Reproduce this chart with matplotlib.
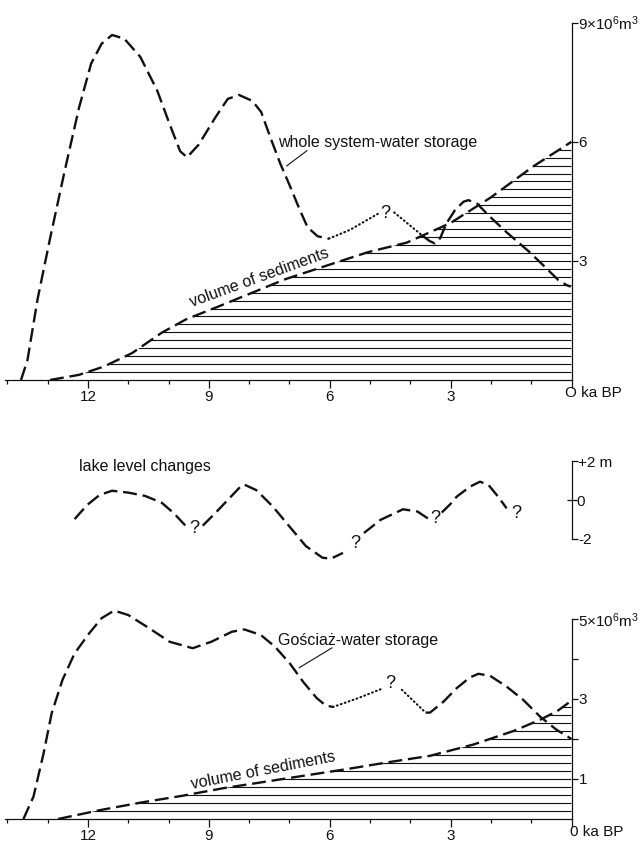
import numpy as np
import matplotlib
matplotlib.use('Agg')
import matplotlib.pyplot as plt
from matplotlib.ticker import FixedLocator, FixedFormatter

plt.rcParams['font.family'] = ['Liberation Sans', 'DejaVu Sans']
plt.rcParams['mathtext.fontset'] = 'custom'
plt.rcParams['mathtext.rm'] = 'Liberation Sans'
plt.rcParams['mathtext.it'] = 'Liberation Sans'
plt.rcParams['lines.scale_dashes'] = False

# ---------------- data (ka BP, values) ----------------
# top panel: whole system water storage (10^6 m3)
whole_age_a = [13.66, 13.5, 13.25, 12.94, 12.58, 12.22, 11.92, 11.66, 11.4, 11.1, 10.7, 10.28,
               9.97, 9.71, 9.54, 9.25, 8.84, 8.53, 8.25, 7.92, 7.7, 7.48, 7.23, 6.98, 6.74,
               6.55, 6.3, 6.02]
whole_val_a = [0.0, 0.5, 2.03, 3.56, 5.25, 6.86, 7.97, 8.47, 8.69, 8.6, 8.14, 7.29,
               6.44, 5.76, 5.61, 5.93, 6.61, 7.08, 7.18, 7.03, 6.75, 6.13, 5.46, 4.87, 4.28,
               3.85, 3.62, 3.56]
whole_dot1_age = [6.02, 5.5, 4.78]
whole_dot1_val = [3.56, 3.78, 4.2]
whole_dot2_age = [4.4, 3.68]
whole_dot2_val = [4.22, 3.62]
whole_age_b = [3.68, 3.52, 3.39, 3.26, 3.10, 2.89, 2.68, 2.56, 2.35, 2.02, 1.61, 1.05,
               0.62, 0.33, 0.12, 0.02]
whole_val_b = [3.62, 3.5, 3.44, 3.57, 3.95, 4.28, 4.49, 4.53, 4.45, 4.11, 3.72, 3.23,
               2.81, 2.52, 2.39, 2.35]
whole_q = (4.63, 4.2)

sed_top_age = [12.94, 12.22, 11.6, 10.9, 10.17, 9.56, 8.74, 7.92, 7.1, 6.08, 5.05, 4.09,
               3.01, 2.0, 0.95, 0.0]
sed_top_val = [0.0, 0.13, 0.34, 0.68, 1.19, 1.53, 1.86, 2.2, 2.54, 2.88, 3.22, 3.46,
               3.95, 4.6, 5.38, 6.0]

# middle panel: lake level changes (m)
lake_segs_age = [
    [12.33, 12.02, 11.71, 11.4, 10.99, 10.58, 10.17, 9.87, 9.56],
    [9.15, 8.84, 8.53, 8.22, 8.12, 7.82, 7.41, 7.0, 6.59, 6.18, 5.97, 5.67],
    [5.15, 4.74, 4.18, 3.82, 3.51],
    [3.22, 3.0, 2.85, 2.52, 2.27, 2.06, 1.82, 1.61],
]
lake_segs_val = [
    [-0.99, -0.26, 0.26, 0.48, 0.38, 0.21, -0.14, -0.68, -1.37],
    [-1.33, -0.68, 0.0, 0.68, 0.8, 0.51, -0.34, -1.37, -2.39, -2.99, -3.04, -2.74],
    [-1.71, -1.03, -0.48, -0.6, -1.03],
    [-0.65, -0.2, 0.17, 0.69, 0.95, 0.78, 0.17, -0.43],
]
lake_q_age = [9.36, 5.36, 3.39, 1.38]
lake_q_val = [-1.5, -2.25, -0.95, -0.7]

# bottom panel: Gosciaz water storage (10^6 m3)
gos_age_a = [13.6, 13.35, 13.1, 12.9, 12.63, 12.33, 11.97, 11.66, 11.35, 11.0, 10.48, 9.97,
             9.4, 8.94, 8.43, 8.12, 7.71, 7.36, 6.99, 6.66, 6.32, 6.1, 5.92]
gos_val_a = [0.0, 0.56, 1.64, 2.64, 3.48, 4.14, 4.64, 5.02, 5.21, 5.1, 4.77, 4.43,
             4.27, 4.43, 4.68, 4.74, 4.6, 4.31, 3.89, 3.43, 3.02, 2.84, 2.8]
gos_dot1_age = [5.92, 5.3, 4.67]
gos_dot1_val = [2.8, 3.02, 3.27]
gos_dot2_age = [4.21, 3.62]
gos_dot2_val = [3.23, 2.66]
gos_age_b = [3.62, 3.51, 3.18, 2.85, 2.52, 2.31, 2.02, 1.61, 1.2, 0.78, 0.37, 0.0]
gos_val_b = [2.66, 2.66, 2.93, 3.27, 3.54, 3.63, 3.58, 3.31, 2.98, 2.56, 2.23, 2.0]
gos_q = (4.5, 3.39)

sed_bot_age = [12.74, 11.71, 10.69, 9.66, 8.64, 7.61, 6.59, 5.56, 4.54, 3.51, 2.44, 1.44,
               0.78, 0.35, 0.0]
sed_bot_val = [0.0, 0.22, 0.41, 0.58, 0.77, 0.93, 1.09, 1.25, 1.42, 1.58, 1.86, 2.2,
               2.48, 2.7, 2.96]

xtick_major = [12, 9, 6, 3, 0]
xtick_major_lbl = ['12', '9', '6', '3', '']
xtick_minor = [14, 13, 11, 10, 8, 7, 5, 4, 2, 1]

# ---------------- layout ----------------
W, H = 643, 842
fig = plt.figure(figsize=(W / 100, H / 100), dpi=100)
fig.patch.set_facecolor('white')

PX_KA = 40.3
X0 = 571.5
XMAX = X0 / PX_KA
INK = '#111111'
DASH = dict(color=INK, lw=1.7, dashes=(10, 4.2), dash_capstyle='butt')
DOT = dict(color=INK, lw=1.5, dashes=(0.6, 2.4), dash_capstyle='round')
FS = 11
LFS = 11.5


def make_axes(y0_px, ppu, ymin, ymax):
    bottom_px = y0_px - ymin * ppu
    top_px = y0_px - ymax * ppu
    ax = fig.add_axes([0, (H - bottom_px) / H, X0 / W, (bottom_px - top_px) / H])
    ax.set_xlim(XMAX, 0)
    ax.set_ylim(ymin, ymax)
    ax.patch.set_alpha(0)
    for s in ('top', 'left'):
        ax.spines[s].set_visible(False)
    for s in ('bottom', 'right'):
        ax.spines[s].set_linewidth(0.9)
        ax.spines[s].set_color(INK)
    return ax


def time_axis(ax, zero_label, dx, dy):
    ax.spines['bottom'].set_bounds(0, 14.05)
    ax.set_xticks(xtick_major)
    ax.set_xticklabels(xtick_major_lbl)
    ax.set_xticks(xtick_minor, minor=True)
    ax.tick_params(axis='x', which='major', direction='out', length=5.5, width=0.9,
                   pad=1.5, labelsize=FS, colors=INK)
    ax.tick_params(axis='x', which='minor', direction='out', length=3, width=0.9, colors=INK)
    ax.annotate(zero_label, xy=(0, 0), xycoords='data', xytext=(dx, dy),
                textcoords='offset points', ha='left', va='center', fontsize=FS, color=INK)


def hatch(ax, age, val, levels):
    poly = ax.fill_between(age, 0, val, facecolor='none', edgecolor='none', lw=0)
    path = poly.get_paths()[0]
    lc = ax.hlines(levels, 0, XMAX, colors=INK, lw=0.8)
    lc.set_clip_path(path, ax.transData)


# ---------- top panel ----------
ax1 = make_axes(380, 39.7, 0, 9.4)
time_axis(ax1, 'O ka BP', -5, -9.5)
ax1.spines['right'].set_bounds(0, 9)
ax1.yaxis.tick_right()
ax1.set_yticks([3, 6, 9])
ax1.set_yticklabels(['3', '6', r'9×10$^{6}$m$^{3}$'])
ax1.tick_params(axis='y', direction='out', length=4, width=0.9, pad=1, labelsize=FS, colors=INK)

hatch(ax1, sed_top_age, sed_top_val, np.arange(0.2, 5.95, 0.2))
ax1.plot(sed_top_age, sed_top_val, **DASH)
ax1.plot(whole_age_a, whole_val_a, **DASH)
ax1.plot(whole_age_b, whole_val_b, **DASH)
ax1.plot(whole_dot1_age, whole_dot1_val, **DOT)
ax1.plot(whole_dot2_age, whole_dot2_val, **DOT)
ax1.text(whole_q[0], whole_q[1], '?', fontsize=13, ha='center', va='center', color=INK)
ax1.text(7.28, 5.98, 'whole system-water storage', fontsize=LFS, ha='left', va='center', color=INK)
ax1.annotate('', xy=(7.07, 5.39), xytext=(6.56, 5.78),
             arrowprops=dict(arrowstyle='-', lw=0.8, color=INK, shrinkA=0, shrinkB=0))
ax1.text(7.75, 2.58, 'volume of sediments', fontsize=LFS, rotation=20, rotation_mode='anchor',
         ha='center', va='center', color=INK)

# ---------- middle panel ----------
ax2 = make_axes(500, 19.3, -3.4, 2.3)
ax2.spines['bottom'].set_visible(False)
ax2.set_xticks([])
ax2.spines['right'].set_bounds(-2, 2)
ax2.yaxis.tick_right()
ax2.yaxis.set_major_locator(FixedLocator([2, -2]))
ax2.yaxis.set_major_formatter(FixedFormatter(['+2 m', '-2']))
ax2.yaxis.set_minor_locator(FixedLocator([0]))
ax2.yaxis.set_minor_formatter(FixedFormatter(['0']))
ax2.tick_params(axis='y', which='major', direction='out', length=4, width=0.9, pad=1,
                labelsize=FS, colors=INK)
ax2.tick_params(axis='y', which='minor', direction='inout', length=7, width=0.9, pad=0,
                labelsize=FS, colors=INK, right=True, labelright=True)
for a, v in zip(lake_segs_age, lake_segs_val):
    ax2.plot(a, v, **DASH)
for a, v in zip(lake_q_age, lake_q_val):
    ax2.text(a, v, '?', fontsize=13, ha='center', va='center', color=INK)
ax2.text(12.22, 1.73, 'lake level changes', fontsize=LFS, ha='left', va='center', color=INK)

# ---------- bottom panel ----------
ax3 = make_axes(819, 40.0, 0, 5.4)
time_axis(ax3, '0 ka BP', -1, -9)
ax3.spines['right'].set_bounds(0, 5)
ax3.yaxis.tick_right()
ax3.set_yticks([1, 2, 3, 4, 5])
ax3.set_yticklabels(['1', '', '3', '', r'5×10$^{6}$m$^{3}$'])
ax3.tick_params(axis='y', direction='out', length=4, width=0.9, pad=1, labelsize=FS, colors=INK)

hatch(ax3, sed_bot_age, sed_bot_val, np.arange(0.2, 2.95, 0.2))
ax3.plot(sed_bot_age, sed_bot_val, **DASH)
ax3.plot(gos_age_a, gos_val_a, **DASH)
ax3.plot(gos_age_b, gos_val_b, **DASH)
ax3.plot(gos_dot1_age, gos_dot1_val, **DOT)
ax3.plot(gos_dot2_age, gos_dot2_val, **DOT)
ax3.text(gos_q[0], gos_q[1], '?', fontsize=13, ha='center', va='center', color=INK)
ax3.text(7.28, 4.475, 'Gościaż-water storage', fontsize=LFS, ha='left', va='center', color=INK)
ax3.annotate('', xy=(6.76, 3.78), xytext=(5.94, 4.28),
             arrowprops=dict(arrowstyle='-', lw=0.8, color=INK, shrinkA=0, shrinkB=0))
ax3.text(7.66, 1.22, 'volume of sediments', fontsize=LFS, rotation=11, rotation_mode='anchor',
         ha='center', va='center', color=INK)

fig.savefig('out.png', dpi=100, facecolor='white')
